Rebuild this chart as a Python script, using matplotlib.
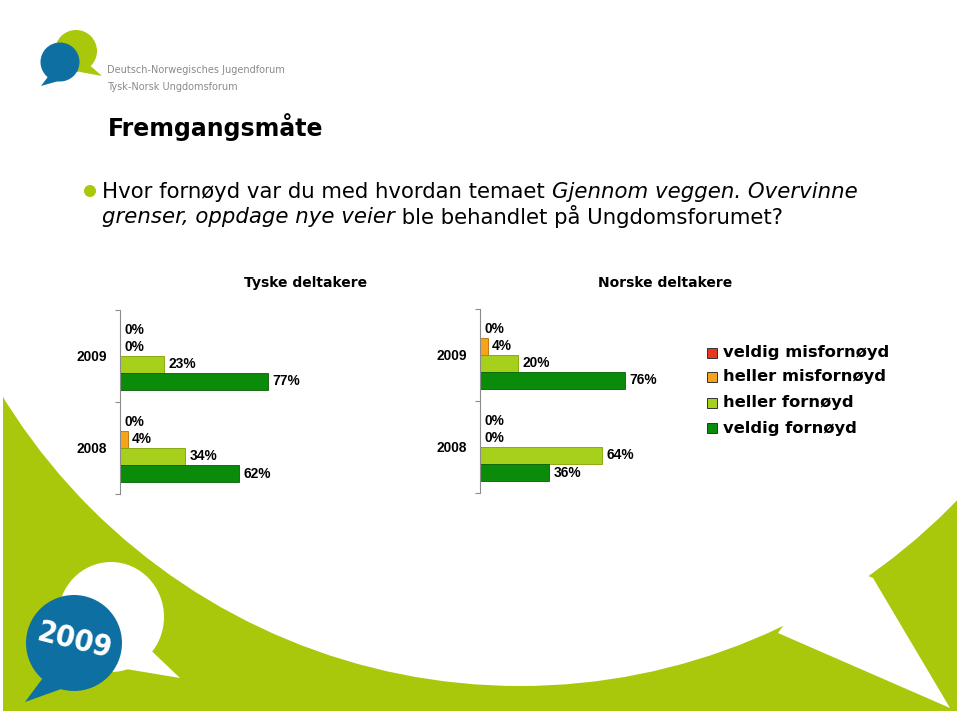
import matplotlib
matplotlib.use("Agg")
import matplotlib.pyplot as plt
import numpy as np
from matplotlib.patches import Circle, Ellipse, Polygon, Rectangle

# data
years = ["2008", "2009"]
categories = ["veldig misfornøyd", "heller misfornøyd", "heller fornøyd", "veldig fornøyd"]
tyske = {"2008": [0, 4, 34, 62], "2009": [0, 0, 23, 77]}
norske = {"2008": [0, 0, 64, 36], "2009": [0, 4, 20, 76]}
chart_titles = ["Tyske deltakere", "Norske deltakere"]

colors = ["#E8371A", "#F5A31A", "#A6D01C", "#0A8C0A"]
edges = ["#A02010", "#B86E00", "#7FA000", "#056005"]

GREEN = "#A9C80B"
BLUE = "#0E6FA3"

fig = plt.figure(figsize=(9.6, 7.18), dpi=100)

# background layer in pixel coordinates
bg = fig.add_axes([0, 0, 1, 1], zorder=0)
bg.set_xlim(0, 960)
bg.set_ylim(718, 0)
bg.axis("off")

bg.add_patch(Rectangle((3, 0), 954, 711, color=GREEN, lw=0))
bg.add_patch(Circle((520, 79), 607, color="white", lw=0))
bg.add_patch(Polygon([(778, 633), (950, 708), (873, 578), (830, 560)], closed=True, color="white", lw=0))

# bottom-left badge
bg.add_patch(Ellipse((111, 617), 106, 110, color="white", lw=0))
bg.add_patch(Polygon([(140, 640), (180, 678), (120, 668)], closed=True, color="white", lw=0))
bg.add_patch(Polygon([(45, 675), (25, 702), (64, 688)], closed=True, color=BLUE, lw=0))
bg.add_patch(Circle((74, 643), 48, color=BLUE, lw=0))
bg.text(75, 641, "2009", color="white", fontsize=22, fontweight="bold",
        rotation=-14, ha="center", va="center", fontstretch="condensed")

# top logo
bg.add_patch(Polygon([(86, 62), (102, 76), (80, 72)], closed=True, color=GREEN, lw=0))
bg.add_patch(Circle((76, 51), 21, color=GREEN, lw=0))
bg.add_patch(Polygon([(50, 74), (41, 86), (62, 80)], closed=True, color=BLUE, lw=0))
bg.add_patch(Circle((60, 62), 19.5, color=BLUE, lw=0))
bg.text(107, 70, "Deutsch-Norwegisches Jugendforum", color="#8A8A8A", fontsize=7.0,
        ha="left", va="center")
bg.text(107, 87, "Tysk-Norsk Ungdomsforum", color="#8A8A8A", fontsize=7.0,
        ha="left", va="center")

# title and bullet
bg.text(108, 127, "Fremgangsmåte", fontsize=17, fontweight="bold", ha="left", va="center")
bg.add_patch(Circle((90, 191), 6, color=GREEN, lw=0))

renderer = fig.canvas.get_renderer()


def run_line(x, y, parts, size):
    for txt, style in parts:
        t = bg.text(x, y, txt, fontsize=size, style=style, ha="left", va="center")
        x += t.get_window_extent(renderer=renderer).width


run_line(102, 192, [("Hvor fornøyd var du med hvordan temaet ", "normal"),
                    ("Gjennom veggen. Overvinne", "italic")], 15.3)
run_line(102, 217, [("grenser, oppdage nye veier", "italic"),
                    (" ble behandlet på Ungdomsforumet?", "normal")], 15.3)

# chart titles
fig.text(306 / 960, 1 - 283 / 718, chart_titles[0], fontsize=10, fontweight="bold",
         ha="center", va="center")
fig.text(665 / 960, 1 - 283 / 718, chart_titles[1], fontsize=10, fontweight="bold",
         ha="center", va="center")

h = 0.185
offsets = [1.5 * h, 0.5 * h, -0.5 * h, -1.5 * h]
ypos = np.arange(len(years))


def draw_chart(rect, data):
    ax = fig.add_axes(rect, zorder=2)
    ax.patch.set_alpha(0)
    for i in range(len(categories)):
        vals = [data[yr][i] for yr in years]
        ax.barh(ypos + offsets[i], vals, height=h, color=colors[i],
                edgecolor=edges[i], linewidth=0.6)
        for yv, v in zip(ypos + offsets[i], vals):
            ax.annotate(f"{v}%", (v, yv), xytext=(3.2, 0), textcoords="offset points",
                        ha="left", va="center", fontsize=9.9, fontweight="bold",
                        family="Liberation Sans")
    ax.set_xlim(0, 100)
    ax.set_ylim(-0.5, 1.5)
    for s in ["top", "right", "bottom"]:
        ax.spines[s].set_visible(False)
    ax.spines["left"].set_color("#8C8C8C")
    ax.spines["left"].set_linewidth(0.8)
    ax.set_xticks([])
    ax.set_yticks(ypos)
    ax.set_yticklabels(years, fontsize=9.9, fontweight="bold", family="Liberation Sans")
    ax.tick_params(axis="y", which="major", length=0, pad=9.5)
    ax.set_yticks([-0.5, 0.5, 1.5], minor=True)
    ax.tick_params(axis="y", which="minor", length=3.5, color="#8C8C8C", width=0.8)
    return ax


draw_chart([0.125, 0.312, 0.2, 0.2563], tyske)
draw_chart([0.5, 0.3134, 0.199, 0.2563], norske)

# legend
leg_y = [353, 377, 403, 428]
for c, e, lab, yy in zip(colors, edges, categories, leg_y):
    bg.add_patch(Rectangle((707, yy - 5), 9.5, 9.5, facecolor=c, edgecolor="#333333", lw=0.7))
    bg.text(723, yy, lab, fontsize=11.8, fontweight="bold", ha="left", va="center")

fig.savefig("out.png", dpi=100)
